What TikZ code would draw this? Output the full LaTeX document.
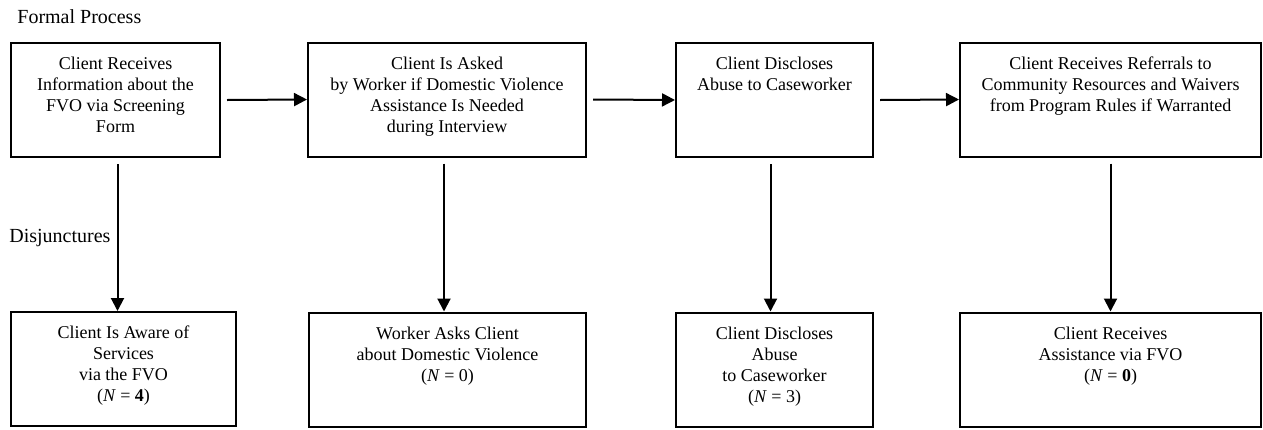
\documentclass[tikz,border=0pt]{standalone}
\usepackage{fontspec}
\setmainfont{Liberation Serif}
\usetikzlibrary{arrows.meta}
\newcommand{\stagetext}[2]{\parbox[c][45pt][t]{#1}{\centering\strut #2}}

\begin{document}
\begin{tikzpicture}[x=0.5pt, y=-0.5pt,
    stage/.style={draw, line width=1pt, inner xsep=0pt, inner ysep=6pt, font=\fontsize{9}{10.5}\selectfont},
    flow/.style={-{Triangle[length=6.5pt, width=6.5pt]}, line width=1pt},
    heading/.style={anchor=west, inner sep=0pt, font=\fontsize{10}{12}\selectfont}]
    \useasboundingbox (0, 0) rectangle (1263, 429);
    \node [heading] (formal) at (17, 17) {Formal Process};
    \node [heading] (disjunct) at (9, 238) {Disjunctures};

    \node [stage] (screenForm) at (115.5, 100) {\stagetext{104.5pt}{Client Receives\\ Information about the\\ FVO via Screening\\ Form}};
    \node [stage] (askedWorker) at (447, 99.5) {\stagetext{139pt}{Client Is Asked\\ by Worker if Domestic Violence\\ Assistance Is Needed\\ during Interview}};
    \node [stage] (disclosesAbuse) at (774.5, 100) {\stagetext{98.5pt}{Client Discloses\\ Abuse to Caseworker}};
    \node [stage] (getsReferrals) at (1110.5, 99.5) {\stagetext{150.5pt}{Client Receives Referrals to\\ Community Resources and Waivers\\ from Program Rules if Warranted}};

    \node [stage] (awareServices) at (123.5, 369) {\stagetext{112.5pt}{Client Is Aware of\\ Services\\ via the FVO\\ (\textit{N} = \textbf{4})}};
    \node [stage] (workerAsks) at (447.5, 369.5) {\stagetext{138.5pt}{Worker Asks Client\\ about Domestic Violence\\ (\textit{N} = 0)}};
    \node [stage] (clientDiscloses) at (774.5, 369.5) {\stagetext{98.5pt}{Client Discloses\\ Abuse\\ to Caseworker\\ (\textit{N} = 3)}};
    \node [stage] (getsAssistance) at (1110.5, 369.5) {\stagetext{150.5pt}{Client Receives\\ Assistance via FVO\\ (\textit{N} = \textbf{0})}};

    \draw [flow] ([xshift=3pt]screenForm.east) -- (askedWorker.west);
    \draw [flow] ([xshift=3pt]askedWorker.east) -- (disclosesAbuse.west);
    \draw [flow] ([xshift=3pt]disclosesAbuse.east) -- (getsReferrals.west);

    \draw [flow] ([xshift=1pt, yshift=-3pt]screenForm.south) -- ([xshift=1pt]screenForm.south |- awareServices.north);
    \draw [flow] ([xshift=-1.5pt, yshift=-3pt]askedWorker.south) -- ([xshift=-1.5pt]askedWorker.south |- workerAsks.north);
    \draw [flow] ([xshift=-2pt, yshift=-3pt]disclosesAbuse.south) -- ([xshift=-2pt]disclosesAbuse.south |- clientDiscloses.north);
    \draw [flow] ([yshift=-3pt]getsReferrals.south) -- (getsReferrals.south |- getsAssistance.north);
\end{tikzpicture}
\end{document}
